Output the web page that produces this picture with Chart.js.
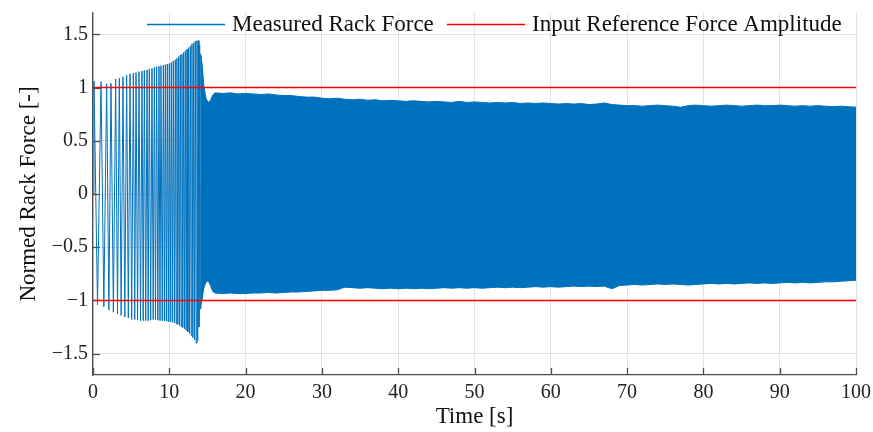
<!DOCTYPE html>
<html>
<head>
<meta charset="utf-8">
<title>Measured Rack Force</title>
<script src="https://cdn.jsdelivr.net/npm/chart.js@4.4.1/dist/chart.umd.min.js"></script>
<style>
  html, body { margin: 0; padding: 0; background: #fff; }
  #wrap { width: 873px; height: 432px; }
</style>
</head>
<body>
<div id="wrap"><canvas id="forceChart" width="873" height="432"></canvas></div>
<script>
// ==============================
// DATA
// ==============================

// start-up sweep: single oscillations are still visible here
const peakTimes = [0.13, 1.05, 1.79, 2.36, 2.97, 3.45, 3.93, 4.41, 4.85, 5.29, 5.64, 6.03, 6.42, 6.73, 7.08,
  7.38, 7.73, 8.04, 8.34, 8.65, 8.91, 9.22, 9.48, 9.74, 10.0, 10.26, 10.52, 10.79, 11.0, 11.23, 11.44,
  11.66, 11.88, 12.1, 12.32, 12.54, 12.76, 12.97, 13.2, 13.41, 13.63, 13.8, 13.98, 14.15, 14.33];
const peakValues = [1.06, 1.055, 1.035, 1.04, 1.08, 1.087, 1.10, 1.115, 1.13, 1.135, 1.14, 1.15, 1.155, 1.16, 1.165,
  1.175, 1.18, 1.19, 1.195, 1.20, 1.205, 1.21, 1.215, 1.22, 1.225, 1.235, 1.25, 1.26, 1.275, 1.29, 1.305,
  1.315, 1.33, 1.345, 1.36, 1.375, 1.39, 1.41, 1.42, 1.435, 1.44, 1.44, 1.40, 1.30, 1.18];
const troughTimes = [0.59, 1.42, 2.08, 2.67, 3.21, 3.69, 4.17, 4.63, 5.07, 5.47, 5.84, 6.23, 6.58, 6.91, 7.23,
  7.56, 7.89, 8.19, 8.50, 8.78, 9.07, 9.35, 9.61, 9.87, 10.13, 10.39, 10.66, 10.90, 11.12, 11.34, 11.55,
  11.77, 11.99, 12.21, 12.43, 12.65, 12.87, 13.09, 13.31, 13.52, 13.72, 13.89, 14.07, 14.24];
const troughValues = [-1.04, -1.06, -1.09, -1.11, -1.125, -1.14, -1.155, -1.165, -1.18, -1.18, -1.185, -1.19, -1.19, -1.19, -1.19,
  -1.185, -1.18, -1.18, -1.185, -1.19, -1.19, -1.19, -1.195, -1.2, -1.2, -1.205, -1.21, -1.22, -1.225, -1.235, -1.245,
  -1.255, -1.265, -1.28, -1.295, -1.31, -1.33, -1.35, -1.37, -1.40, -1.38, -1.25, -1.08, -1.00];

// after ~14 s the oscillation is too dense to resolve: upper / lower envelope
const bandTimes = [14.1, 14.3, 14.5, 14.8, 15.1, 15.4, 15.7,
  16, 17, 18, 19, 20, 21, 22, 23, 24, 25, 26, 27, 28, 29, 30, 31, 32, 33, 34, 35, 36, 37, 38, 39,
  40, 41, 42, 43, 44, 45, 46, 47, 48, 49, 50, 51, 52, 53, 54, 55, 56, 57, 58, 59, 60, 61, 62, 63, 64, 65,
  66, 67, 68, 69, 70, 71, 72, 73, 74, 75, 76, 77, 78, 79, 80, 81, 82, 83, 84, 85, 86, 87, 88, 89, 90,
  91, 92, 93, 94, 95, 96, 97, 98, 99, 100];
const bandUpper = [1.32, 1.22, 1.03, 0.90, 0.86, 0.88, 0.93,
  0.95, 0.945, 0.95, 0.94, 0.945, 0.94, 0.935, 0.94, 0.93, 0.925, 0.925, 0.915, 0.91, 0.91, 0.9, 0.895, 0.9, 0.89, 0.885, 0.89, 0.88, 0.885, 0.875, 0.88,
  0.875, 0.87, 0.875, 0.87, 0.865, 0.87, 0.865, 0.86, 0.87, 0.86, 0.865, 0.86, 0.855, 0.86, 0.855, 0.86, 0.85, 0.855, 0.85, 0.855, 0.85, 0.845, 0.85, 0.845, 0.85, 0.84,
  0.845, 0.855, 0.84, 0.835, 0.83, 0.83, 0.825, 0.83, 0.835, 0.83, 0.825, 0.815, 0.83, 0.835, 0.83, 0.825, 0.83, 0.835, 0.83, 0.825, 0.83, 0.835, 0.83, 0.83, 0.835,
  0.83, 0.825, 0.83, 0.825, 0.83, 0.825, 0.82, 0.825, 0.82, 0.815];
const bandLower = [-1.06, -0.99, -0.89, -0.83, -0.815, -0.86, -0.915,
  -0.93, -0.935, -0.93, -0.935, -0.935, -0.93, -0.93, -0.925, -0.93, -0.925, -0.92, -0.92, -0.915, -0.91, -0.905, -0.905, -0.9, -0.875, -0.88, -0.885, -0.88, -0.885, -0.89, -0.885,
  -0.89, -0.885, -0.89, -0.885, -0.89, -0.885, -0.88, -0.885, -0.88, -0.885, -0.88, -0.885, -0.88, -0.875, -0.88, -0.875, -0.88, -0.875, -0.87, -0.875, -0.87, -0.875, -0.87, -0.865, -0.87, -0.865,
  -0.87, -0.865, -0.89, -0.86, -0.855, -0.85, -0.855, -0.85, -0.845, -0.85, -0.845, -0.85, -0.855, -0.85, -0.845, -0.84, -0.845, -0.84, -0.845, -0.84, -0.835, -0.84, -0.835, -0.84, -0.835,
  -0.83, -0.835, -0.83, -0.835, -0.83, -0.825, -0.825, -0.82, -0.815, -0.81];

// input reference amplitude
const refTimes = [0, 100];
const refUpper = [1, 1];
const refLower = [-1, -1];

// axes
const xTicks = [0, 10, 20, 30, 40, 50, 60, 70, 80, 90, 100];
const yTicks = [-1.5, -1, -0.5, 0, 0.5, 1, 1.5];


// ==============================
// STYLE
// ==============================
const BLUE = "#0072BD";
const RED = "#FF0000";
const AXIS = "#4d4d4d";
const GRID = "#e3e3e3";
const SERIF = "'Liberation Serif', 'Times New Roman', serif";


// ==============================
// HELPERS
// ==============================
function toPoints(xs, ys) {
  return xs.map((x, i) => ({ x: x, y: ys[i] }));
}

function sweepPoints() {
  const pts = [{ x: 0, y: 0 }]
    .concat(toPoints(peakTimes, peakValues))
    .concat(toPoints(troughTimes, troughValues));
  return pts.sort((a, b) => a.x - b.x);
}

function minusLabel(v) {
  return v < 0 ? "\u2212" + Math.abs(v) : String(v);
}


// ==============================
// PLUGINS: inward ticks + legend inside the axes
// ==============================
const innerTicks = {
  id: "innerTicks",
  beforeDatasetsDraw(chart) {
    const { ctx, chartArea, scales } = chart;
    ctx.save();
    ctx.strokeStyle = AXIS;
    ctx.lineWidth = 1.3;
    xTicks.forEach(v => {
      const px = Math.round(scales.x.getPixelForValue(v)) + 0.5;
      ctx.beginPath();
      ctx.moveTo(px, chartArea.bottom);
      ctx.lineTo(px, chartArea.bottom - 7);
      ctx.stroke();
    });
    yTicks.forEach(v => {
      const py = Math.round(scales.y.getPixelForValue(v)) + 0.5;
      ctx.beginPath();
      ctx.moveTo(chartArea.left, py);
      ctx.lineTo(chartArea.left + 7, py);
      ctx.stroke();
    });
    ctx.restore();
  }
};

const insideLegend = {
  id: "insideLegend",
  afterDraw(chart) {
    const ctx = chart.ctx;
    const items = [
      { x: 147, label: "Measured Rack Force", color: BLUE },
      { x: 447, label: "Input Reference Force Amplitude", color: RED }
    ];
    ctx.save();
    ctx.font = "23px " + SERIF;
    ctx.textBaseline = "middle";
    ctx.fillStyle = "#111";
    items.forEach(it => {
      ctx.strokeStyle = it.color;
      ctx.lineWidth = 1.5;
      ctx.beginPath();
      ctx.moveTo(it.x, 24.5);
      ctx.lineTo(it.x + 78, 24.5);
      ctx.stroke();
      ctx.fillText(it.label, it.x + 85, 25);
    });
    ctx.restore();
  }
};


// ==============================
// CHART
// ==============================
new Chart(document.getElementById("forceChart"), {
  type: "line",
  data: {
    datasets: [
      {
        label: "Input Reference Force Amplitude",
        data: toPoints(refTimes, refUpper),
        borderColor: RED,
        borderWidth: 1.4,
        fill: false
      },
      {
        label: "reference lower",
        data: toPoints(refTimes, refLower),
        borderColor: RED,
        borderWidth: 1.4,
        fill: false
      },
      {
        label: "Measured Rack Force",
        data: sweepPoints(),
        borderColor: BLUE,
        borderWidth: 1,
        fill: false
      },
      {
        label: "envelope upper",
        data: toPoints(bandTimes, bandUpper),
        borderColor: BLUE,
        backgroundColor: BLUE,
        borderWidth: 1,
        fill: "+1"
      },
      {
        label: "envelope lower",
        data: toPoints(bandTimes, bandLower),
        borderColor: BLUE,
        borderWidth: 1,
        fill: false
      }
    ]
  },
  options: {
    responsive: false,
    animation: false,
    layout: { padding: { left: 0, right: 17, top: 13, bottom: 0 } },
    elements: {
      point: { radius: 0 },
      line: { tension: 0 }
    },
    plugins: {
      legend: { display: false },
      tooltip: { enabled: false }
    },
    scales: {
      x: {
        type: "linear",
        min: 0,
        max: 100,
        afterFit: s => { s.height = 57; s.paddingLeft = 0; s.paddingRight = 0; },
        ticks: {
          stepSize: 10,
          padding: 6,
          color: "#222",
          font: { family: SERIF, size: 20 }
        },
        grid: { color: GRID, lineWidth: 1, drawTicks: false },
        border: { color: AXIS, width: 1.3 },
        title: {
          display: true,
          text: "Time [s]",
          color: "#111",
          font: { family: SERIF, size: 23 },
          padding: { top: 0, bottom: 1 }
        }
      },
      y: {
        type: "linear",
        min: -1.7,
        max: 1.7,
        afterFit: s => { s.width = 93; s.paddingTop = 0; s.paddingBottom = 0; },
        afterBuildTicks: s => { s.ticks = yTicks.map(v => ({ value: v })); },
        ticks: {
          padding: 5,
          color: "#222",
          font: { family: SERIF, size: 20 },
          callback: v => minusLabel(v)
        },
        grid: { color: GRID, lineWidth: 1, drawTicks: false },
        border: { color: AXIS, width: 1.3 },
        title: {
          display: true,
          text: "Normed Rack Force [-]",
          color: "#111",
          font: { family: SERIF, size: 23 },
          padding: { top: 15, bottom: 0 }
        }
      }
    }
  },
  plugins: [innerTicks, insideLegend]
});
</script>
</body>
</html>
